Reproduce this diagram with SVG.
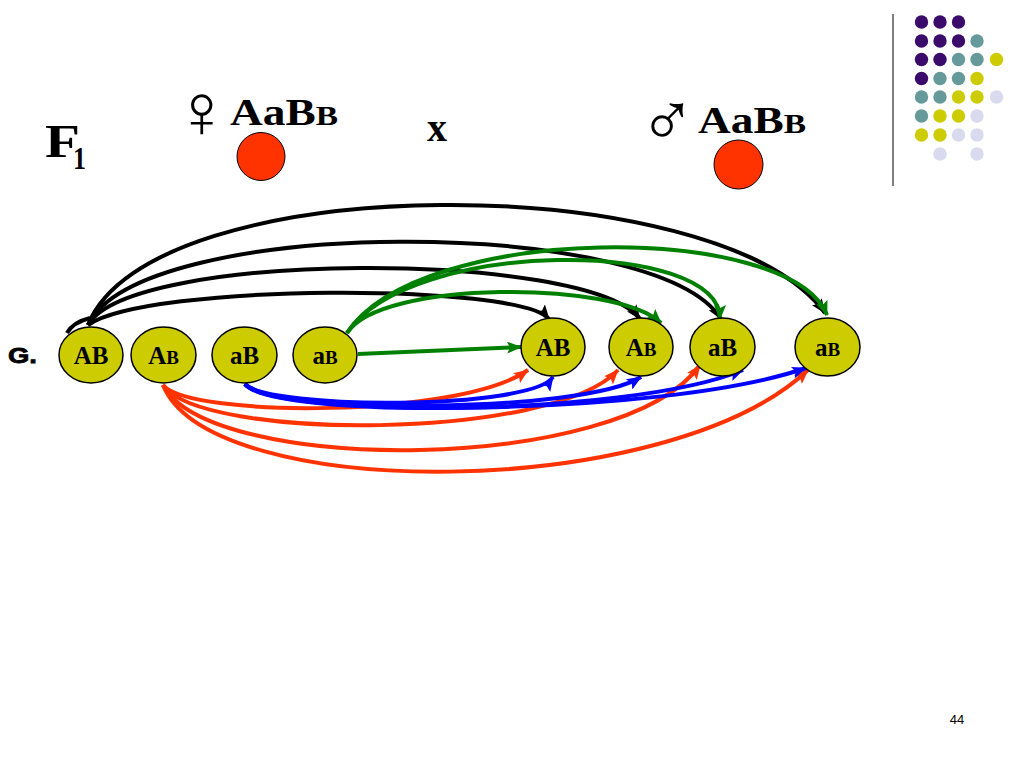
<svg xmlns="http://www.w3.org/2000/svg" width="1024" height="767" viewBox="0 0 1024 767">
<defs>
<style>
.gam{fill:#cccc00;stroke:#000;stroke-width:1.5}
.gl{font-family:"Liberation Serif",serif;font-weight:bold;font-size:25px;fill:#000;text-anchor:middle}
.sm{font-size:19px}
.hd{font-family:"Liberation Serif",serif;font-weight:bold;fill:#000}
.sym{font-family:"DejaVu Sans",sans-serif;font-weight:200;fill:#000}
.egg{fill:#ff3300;stroke:#000;stroke-width:1}
.c{fill:none;stroke-width:4}
.bk{stroke:#000}.gr{stroke:#008000}.rd{stroke:#ff3300}.bl{stroke:#0000ff}
.p{fill:#3b0b6b}.t{fill:#669999}.y{fill:#cccc00}.l{fill:#dadaee}
</style>
<marker id="ak" markerUnits="userSpaceOnUse" markerWidth="16" markerHeight="12" refX="14" refY="6" orient="auto"><path d="M0,0 L15,6 L0,12 L3,6 z" fill="#000"/></marker>
<marker id="ag" markerUnits="userSpaceOnUse" markerWidth="16" markerHeight="12" refX="14" refY="6" orient="auto"><path d="M0,0 L15,6 L0,12 L3,6 z" fill="#008000"/></marker>
<marker id="ar" markerUnits="userSpaceOnUse" markerWidth="16" markerHeight="12" refX="14" refY="6" orient="auto"><path d="M0,0 L15,6 L0,12 L3,6 z" fill="#ff3300"/></marker>
<marker id="ab" markerUnits="userSpaceOnUse" markerWidth="16" markerHeight="12" refX="14" refY="6" orient="auto"><path d="M0,0 L15,6 L0,12 L3,6 z" fill="#0000ff"/></marker>
</defs>
<rect width="1024" height="767" fill="#fff"/>

<g id="decor">
<line x1="893" y1="14" x2="893" y2="186" stroke="#808080" stroke-width="2"/>
<g>
<circle class="p" cx="921.5" cy="22" r="6.7"/><circle class="p" cx="940" cy="22" r="6.7"/><circle class="p" cx="958.5" cy="22" r="6.7"/>
<circle class="p" cx="921.5" cy="41" r="6.7"/><circle class="p" cx="940" cy="41" r="6.7"/><circle class="p" cx="958.5" cy="41" r="6.7"/><circle class="t" cx="977" cy="41" r="6.7"/>
<circle class="p" cx="921.5" cy="59.5" r="6.7"/><circle class="p" cx="940" cy="59.5" r="6.7"/><circle class="t" cx="958.5" cy="59.5" r="6.7"/><circle class="t" cx="977" cy="59.5" r="6.7"/><circle class="y" cx="996.5" cy="59.5" r="6.7"/>
<circle class="p" cx="921.5" cy="78.5" r="6.7"/><circle class="t" cx="940" cy="78.5" r="6.7"/><circle class="t" cx="958.5" cy="78.5" r="6.7"/><circle class="y" cx="977" cy="78.5" r="6.7"/>
<circle class="t" cx="921.5" cy="97" r="6.7"/><circle class="t" cx="940" cy="97" r="6.7"/><circle class="y" cx="958.5" cy="97" r="6.7"/><circle class="y" cx="977" cy="97" r="6.7"/><circle class="l" cx="996.5" cy="97" r="6.7"/>
<circle class="t" cx="921.5" cy="116" r="6.7"/><circle class="y" cx="940" cy="116" r="6.7"/><circle class="y" cx="958.5" cy="116" r="6.7"/><circle class="l" cx="977" cy="116" r="6.7"/>
<circle class="y" cx="921.5" cy="135" r="6.7"/><circle class="y" cx="940" cy="135" r="6.7"/><circle class="l" cx="958.5" cy="135" r="6.7"/><circle class="l" cx="977" cy="135" r="6.7"/>
<circle class="l" cx="940" cy="154" r="6.7"/><circle class="l" cx="977" cy="154" r="6.7"/>
</g>
<text x="957" y="724" font-family="Liberation Sans, sans-serif" font-size="13" text-anchor="middle" fill="#000">44</text>
</g>

<g id="header">
<text class="hd" x="45" y="157" font-size="46" textLength="35" lengthAdjust="spacingAndGlyphs">F</text>
<text class="hd" x="73" y="169" font-size="32" textLength="13" lengthAdjust="spacingAndGlyphs">1</text>
<text class="sym" x="173" y="137" font-size="76">♀</text>
<text class="hd" x="230" y="125" font-size="38" textLength="108" lengthAdjust="spacingAndGlyphs">AaB<tspan font-size="28">B</tspan></text>
<text class="hd" x="427" y="141" font-size="42" textLength="20" lengthAdjust="spacingAndGlyphs">x</text>
<text class="sym" x="639" y="146" font-size="76">♂</text>
<text class="hd" x="698" y="133" font-size="38" textLength="108" lengthAdjust="spacingAndGlyphs">AaB<tspan font-size="28">B</tspan></text>
</g>
<g id="female-egg"><circle class="egg" cx="261" cy="156.5" r="24"/></g>
<g id="male-egg"><circle class="egg" cx="738.5" cy="164.5" r="24.5"/></g>

<g id="label-G"><text x="8" y="363" font-family="Liberation Sans, sans-serif" font-weight="bold" font-size="22" stroke="#000" stroke-width="0.8" textLength="29" lengthAdjust="spacingAndGlyphs">G.</text></g>

<g id="connectors">
<path class="c bk" d="M67,333 C72,324 82,320 90,318"/>
<path class="c bk" d="M88,325 C150,167 720,167 825,313" marker-end="url(#ak)"/>
<path class="c bk" d="M88,325 C140,215 657,215 721,319" marker-end="url(#ak)"/>
<path class="c bk" d="M88,325 C130,250 588,250 640,319" marker-end="url(#ak)"/>
<path class="c bk" d="M88,325 C148,283 520,283 549,319" marker-end="url(#ak)"/>
<path class="c gr" d="M347,333 C420,222 790,222 827,315" marker-end="url(#ag)"/>
<path class="c gr" d="M347,333 C410,238 720,238 720,319" marker-end="url(#ag)"/>
<path class="c gr" d="M347,333 C380,280 617,280 661,323" marker-end="url(#ag)"/>
<path class="c gr" d="M358,354 L521,347" marker-end="url(#ag)"/>
<path class="c rd" d="M163,385 C190,418 460,418 528,370" marker-end="url(#ar)"/>
<path class="c rd" d="M163,385 C200,441 553,441 618,370" marker-end="url(#ar)"/>
<path class="c rd" d="M163,385 C210,475 622,475 700,365" marker-end="url(#ar)"/>
<path class="c rd" d="M163,385 C210,503 667,503 808,370" marker-end="url(#ar)"/>
<path class="c bl" d="M245,384 C270,410 531,410 553,377" marker-end="url(#ab)"/>
<path class="c bl" d="M245,384 C270,414 582,414 641,377" marker-end="url(#ab)"/>
<path class="c bl" d="M245,384 C270,418 627,418 743,370" marker-end="url(#ab)"/>
<path class="c bl" d="M245,384 C270,418 661,418 806,368" marker-end="url(#ab)"/>
</g>

<g id="f-AB"><ellipse class="gam" cx="91" cy="355" rx="32" ry="28"/><text class="gl" x="91" y="364">AB</text></g>
<g id="f-Ab"><ellipse class="gam" cx="163.5" cy="355" rx="32.5" ry="28"/><text class="gl" x="163.5" y="364">A<tspan class="sm">B</tspan></text></g>
<g id="f-aB"><ellipse class="gam" cx="244.5" cy="355" rx="32.5" ry="28"/><text class="gl" x="244.5" y="364">aB</text></g>
<g id="f-ab"><ellipse class="gam" cx="325" cy="355" rx="32" ry="28"/><text class="gl" x="325" y="364">a<tspan class="sm">B</tspan></text></g>

<g id="m-AB"><ellipse class="gam" cx="553" cy="347" rx="32" ry="29"/><text class="gl" x="553" y="356">AB</text></g>
<g id="m-Ab"><ellipse class="gam" cx="641" cy="347" rx="32" ry="29"/><text class="gl" x="641" y="356">A<tspan class="sm">B</tspan></text></g>
<g id="m-aB"><ellipse class="gam" cx="722.5" cy="347" rx="32.5" ry="29"/><text class="gl" x="722.5" y="356">aB</text></g>
<g id="m-ab"><ellipse class="gam" cx="827.5" cy="347" rx="32.5" ry="29"/><text class="gl" x="827.5" y="356">a<tspan class="sm">B</tspan></text></g>
</svg>
